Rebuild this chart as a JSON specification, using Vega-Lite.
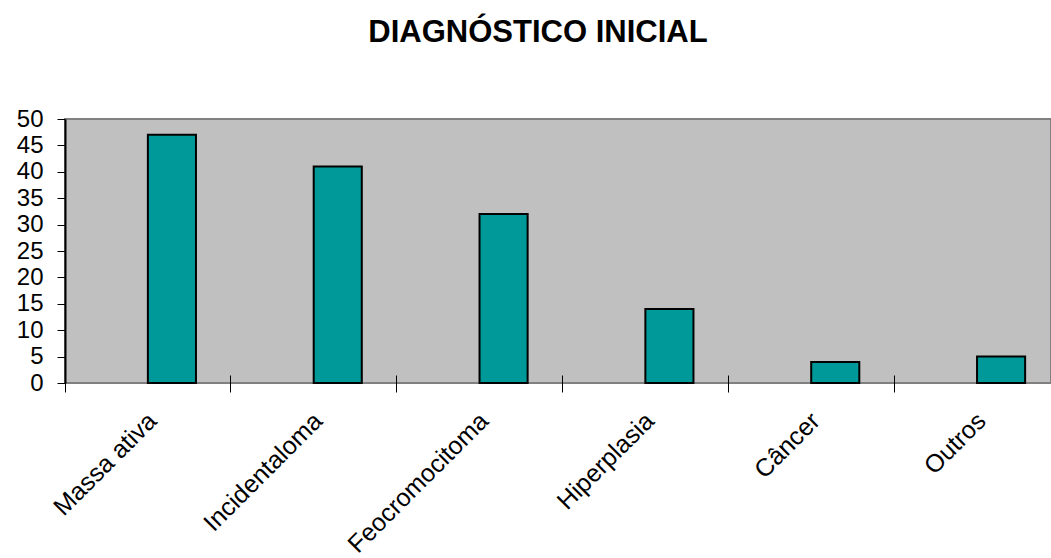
{
  "$schema": "https://vega.github.io/schema/vega-lite/v6.json",
  "autosize": {"type": "none"},
  "padding": {"left": 65, "top": 119, "right": 0, "bottom": 175},
  "width": 986,
  "height": 264,
  "background": "white",
  "title": {
    "text": "DIAGNÓSTICO INICIAL",
    "font": "Liberation Sans",
    "fontSize": 31,
    "fontWeight": "bold",
    "color": "black",
    "anchor": "middle",
    "dx": -20,
    "offset": 58
  },
  "config": {
    "view": {"fill": "#C0C0C0", "stroke": "#808080", "strokeWidth": 2},
    "axis": {
      "labelFont": "Liberation Sans",
      "labelColor": "black",
      "labelLimit": 0,
      "grid": false,
      "title": null
    }
  },
  "data": {
    "values": [
      {"diagnostico": "Massa ativa", "n": 47},
      {"diagnostico": "Incidentaloma", "n": 41},
      {"diagnostico": "Feocromocitoma", "n": 32},
      {"diagnostico": "Hiperplasia", "n": 14},
      {"diagnostico": "Câncer", "n": 4},
      {"diagnostico": "Outros", "n": 5}
    ]
  },
  "mark": {
    "type": "bar",
    "fill": "#009999",
    "stroke": "black",
    "strokeWidth": 2,
    "width": {"band": 0.29},
    "xOffset": 24
  },
  "encoding": {
    "x": {
      "field": "diagnostico",
      "type": "nominal",
      "sort": null,
      "scale": {"range": [0, 995], "paddingInner": 0, "paddingOuter": 0},
      "axis": {
        "labelAngle": -45,
        "labelFontSize": 25,
        "labelOverlap": false,
        "labelOffset": -4,
        "bandPosition": 0,
        "offset": -8,
        "tickSize": 17,
        "tickColor": "black",
        "tickWidth": 1,
        "domain": false,
        "labelPadding": 16
      }
    },
    "y": {
      "field": "n",
      "type": "quantitative",
      "scale": {"domain": [0, 50], "nice": false},
      "axis": {
        "values": [0, 5, 10, 15, 20, 25, 30, 35, 40, 45, 50],
        "labelFontSize": 24,
        "tickSize": 8,
        "tickColor": "black",
        "domainColor": "black",
        "domainWidth": 2,
        "labelPadding": 14
      }
    }
  }
}
